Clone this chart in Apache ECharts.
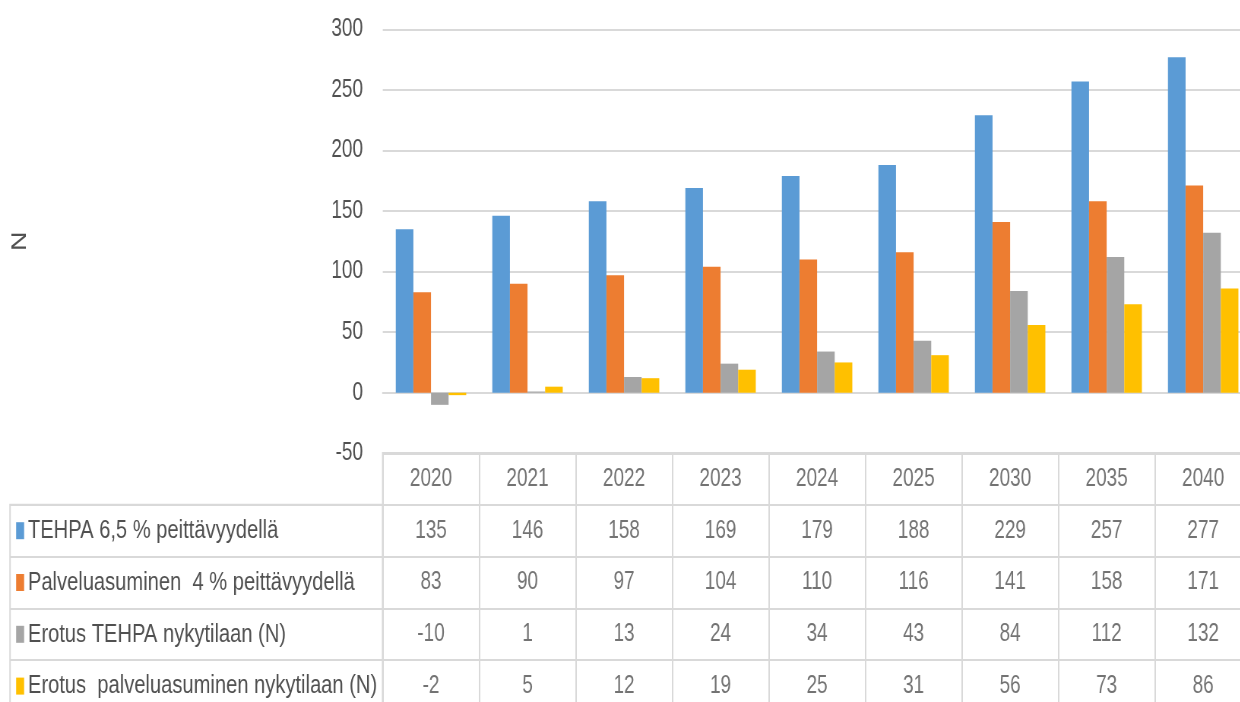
<!DOCTYPE html>
<html><head><meta charset="utf-8">
<script src="https://cdn.jsdelivr.net/npm/echarts@6/dist/echarts.min.js"></script>
<style>
html,body{margin:0;padding:0;background:#fff;overflow:hidden;width:1240px;height:702px}
#c{width:1632px;height:702px;transform:scaleX(0.76);transform-origin:0 0}
</style>
</head><body><div id="c"></div>
<script>
const categories = ['2020','2021','2022','2023','2024','2025','2030','2035','2040'];
const seriesNames = ['TEHPA 6,5 % peittävyydellä','Palveluasuminen  4 % peittävyydellä','Erotus TEHPA nykytilaan (N)','Erotus  palveluasuminen nykytilaan (N)'];
const tehpa = [135,146,158,169,179,188,229,257,277];
const palvelu = [83,90,97,104,110,116,141,158,171];
const erotusTehpa = [-10,1,13,24,34,43,84,112,132];
const erotusPalvelu = [-2,5,12,19,25,31,56,73,86];
const yTicks = {min:-50, max:300, interval:50};
const colors = ['#5B9BD5','#ED7D31','#A5A5A5','#FFC000'];

const FONT = "'Liberation Sans',Arial,sans-serif";
const FS = 25;
const TXT = '#505050';
const LINE = '#d9d9d9';
const values = [tehpa, palvelu, erotusTehpa, erotusPalvelu];

// table cell data: [column, row, text]
const cells = [];
categories.forEach((c,i)=>{ cells.push([i,0,c]); });
values.forEach((arr,r)=>arr.forEach((v,i)=>cells.push([i,r+1,String(v)])));

const rich = {t:{fontFamily:FONT,fontSize:26.5,color:TXT,padding:[0,0,0,5]}};
colors.forEach((c,i)=>{ rich['s'+i] = {width:10.5,height:17,backgroundColor:c}; });

const chart = echarts.init(document.getElementById('c'));
chart.setOption({
  animation:false,
  grid:[
    {left:503.6, top:29.3, width:1143, height:424, outerBoundsMode:'none', containLabel:false},
    {left:503.6, top:453, width:1143, height:259, show:true, borderColor:LINE, borderWidth:2, outerBoundsMode:'none', containLabel:false},
    {left:13.2, top:504.8, width:490.4, height:207.2, show:true, borderColor:LINE, borderWidth:2, outerBoundsMode:'none', containLabel:false}
  ],
  xAxis:[
    {type:'category', gridIndex:0, data:categories, axisLabel:{show:false}, axisTick:{show:false},
     axisLine:{show:true, lineStyle:{color:LINE, width:2}}},
    {type:'category', gridIndex:1, data:categories, axisLabel:{show:false}, axisTick:{show:false},
     axisLine:{show:false}, splitLine:{show:true, lineStyle:{color:LINE, width:2}}},
    {type:'value', gridIndex:2, show:false, min:0, max:1}
  ],
  yAxis:[
    {type:'value', gridIndex:0, min:yTicks.min, max:yTicks.max, interval:yTicks.interval,
     axisLine:{show:false}, axisTick:{show:false},
     axisLabel:{fontFamily:FONT, fontSize:FS, color:TXT, margin:26},
     splitLine:{lineStyle:{color:LINE, width:2}},
     name:'N', nameLocation:'middle', nameGap:464, nameRotate:90,
     nameTextStyle:{fontFamily:FONT, fontSize:27, color:TXT}},
    {type:'category', gridIndex:1, inverse:true, data:['h'].concat(seriesNames),
     axisLabel:{show:false}, axisTick:{show:false}, axisLine:{show:false},
     splitLine:{show:true, lineStyle:{color:LINE, width:2}}},
    {type:'category', gridIndex:2, inverse:true, data:seriesNames,
     axisTick:{show:false}, axisLine:{show:false},
     splitLine:{show:true, lineStyle:{color:LINE, width:2}},
     axisLabel:{inside:true, margin:8, align:'left',
       formatter:(v,i)=>'{s'+i+'|}{t|'+v+'}', rich:rich}}
  ],
  series: values.map((arr,i)=>({
    type:'bar', name:seriesNames[i], xAxisIndex:0, yAxisIndex:0, data:arr,
    barGap:0, barCategoryGap:'27%', itemStyle:{color:colors[i]}
  })).concat([{
    type:'scatter', xAxisIndex:1, yAxisIndex:1, data:cells, symbolSize:1,
    itemStyle:{color:'rgba(0,0,0,0)'}, silent:true,
    label:{show:true, position:'inside', formatter:p=>p.value[2],
      fontFamily:FONT, fontSize:FS, color:TXT}
  }])
});
</script></body></html>
